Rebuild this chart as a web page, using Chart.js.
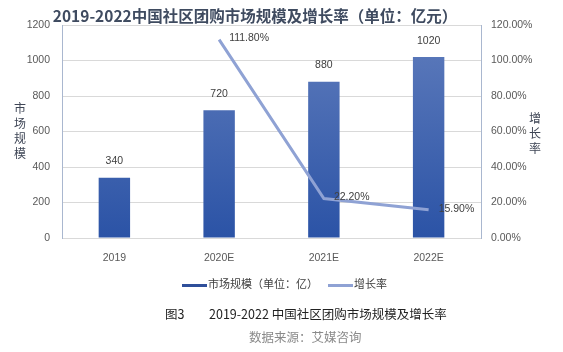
<!DOCTYPE html>
<html>
<head>
<meta charset="utf-8">
<script src="https://cdn.jsdelivr.net/npm/chart.js@4"></script>
<style>
  body { margin: 0; background: #fff; }
  #wrap { position: relative; width: 563px; height: 352px; font-family: "Noto Sans CJK SC", sans-serif; }
  #chart { position: absolute; left: 0; top: 0; }
  .abs { position: absolute; white-space: nowrap; }
  #title { left: 0; width: 510px; top: 4px; text-align: center; font-size: 15.5px; font-weight: bold; color: #3f4b60; }
  .ytitle { font-size: 12px; line-height: 15px; color: #3f4656; text-align: center; width: 14px; }
  .legend { top: 275px; font-size: 11px; color: #404040; }
  .sw { display: inline-block; width: 25px; height: 3px; vertical-align: middle; margin-right: 1px; }
</style>
</head>
<body>
<div id="wrap">
  <canvas id="chart" width="563" height="352"></canvas>
  <div id="title" class="abs">2019-2022中国社区团购市场规模及增长率（单位：亿元）</div>
  <div class="abs ytitle" style="left:13px; top:100px;">市<br>场<br>规<br>模</div>
  <div class="abs ytitle" style="left:528px; top:110px;">增<br>长<br>率</div>
  <div class="abs legend" style="left:182px;"><span class="sw" style="background:#2f4f9a"></span>市场规模（单位：亿）</div>
  <div class="abs legend" style="left:328px;"><span class="sw" style="background:#8fa2d4"></span>增长率</div>
  <div class="abs" style="left:165px; top:304px; font-size:12.5px; color:#222;">图3</div>
  <div class="abs" style="left:209px; top:304px; font-size:12.5px; color:#222;">2019-2022 中国社区团购市场规模及增长率</div>
  <div class="abs" style="left:249px; top:327px; font-size:12.5px; color:#8a8a8a;">数据来源：艾媒咨询</div>
</div>
<script>
var years = ["2019", "2020E", "2021E", "2022E"];
var marketSize = [340, 720, 880, 1020];
var growthRate = [null, 111.8, 22.2, 15.9];

var ctx = document.getElementById("chart").getContext("2d");

// bar labels and line labels drawn after datasets
var valueLabels = {
  id: "valueLabels",
  afterDatasetsDraw: function(chart) {
    var c = chart.ctx;
    c.save();
    c.font = "10.5px 'Liberation Sans', sans-serif";
    c.fillStyle = "#404040";
    chart.getDatasetMeta(0).data.forEach(function(bar, i) {
      c.textAlign = "center";
      c.textBaseline = "bottom";
      c.fillText(marketSize[i], bar.x, bar.y - 11);
    });
    chart.getDatasetMeta(1).data.forEach(function(pt, i) {
      if (growthRate[i] === null) return;
      c.textAlign = "left";
      c.textBaseline = "middle";
      c.fillText(growthRate[i].toFixed(2) + "%", pt.x + 10, pt.y - 1);
    });
    c.restore();
  }
};

var chart = new Chart(ctx, {
  data: {
    labels: years,
    datasets: [
      {
        type: "bar",
        label: "市场规模（单位：亿）",
        data: marketSize,
        yAxisID: "y",
        barPercentage: 0.6,
        categoryPercentage: 0.5,
        backgroundColor: function(context) {
          var area = context.chart.chartArea;
          if (!area) return "#3a5fae";
          var g = context.chart.ctx.createLinearGradient(0, area.top, 0, area.bottom);
          g.addColorStop(0, "#5f7cbc");
          g.addColorStop(1, "#2b53a6");
          return g;
        },
        order: 2
      },
      {
        type: "line",
        label: "增长率",
        data: growthRate,
        yAxisID: "y1",
        borderColor: "#8fa2d4",
        borderWidth: 3,
        pointRadius: 0,
        tension: 0,
        order: 1
      }
    ]
  },
  options: {
    responsive: false,
    animation: false,
    layout: { padding: { top: 25 } },
    plugins: { legend: { display: false }, title: { display: false }, tooltip: { enabled: false } },
    scales: {
      x: {
        grid: { display: false },
        border: { color: "#d9d9d9" },
        ticks: { color: "#595959", font: { size: 10.5, family: "Liberation Sans" }, padding: 6 },
        afterFit: function(scale) { scale.height = 114; }
      },
      y: {
        position: "left",
        min: 0, max: 1200,
        ticks: {
          stepSize: 200, color: "#595959", font: { size: 10.5, family: "Liberation Sans" }, padding: 12,
          callback: function(v) { return String(v); }
        },
        grid: { color: "#d9d9d9", drawTicks: false },
        border: { color: "#a9b7cf" },
        afterFit: function(scale) { scale.width = 62; }
      },
      y1: {
        position: "right",
        min: 0, max: 120,
        ticks: {
          stepSize: 20, color: "#595959", font: { size: 10.5, family: "Liberation Sans" }, padding: 10,
          callback: function(v) { return v.toFixed(2) + "%"; }
        },
        grid: { display: false, drawTicks: false },
        border: { color: "#a9b7cf" },
        afterFit: function(scale) { scale.width = 82; }
      }
    }
  },
  plugins: [valueLabels]
});
</script>
</body>
</html>
